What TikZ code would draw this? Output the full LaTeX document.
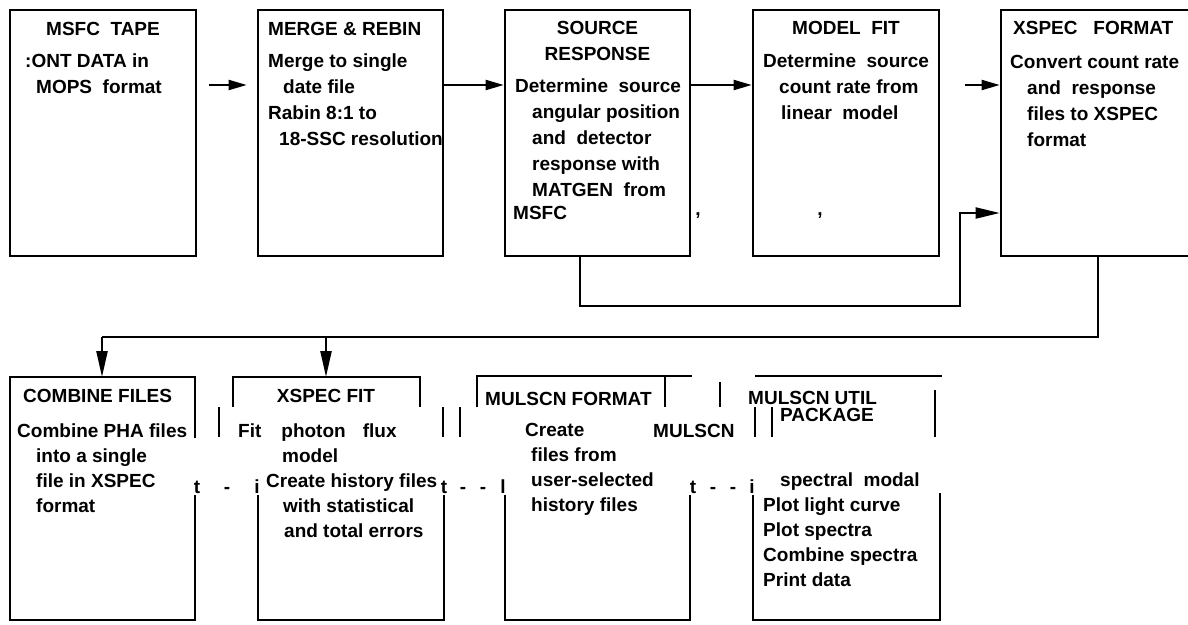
\documentclass[tikz,border=0pt]{standalone}
\usepackage{fontspec}
\setmainfont{Liberation Sans}
\usetikzlibrary{arrows.meta}

\tikzset{
  topbox/.style={draw, line width=2.6pt, minimum height=246pt, inner sep=0pt},
  frame/.style={line width=1.8pt},
  bar/.style={line width=2.4pt},
  link/.style={line width=2.4pt},
  flow/.style={line width=2pt, -{Triangle[length=18pt,width=10pt]}},
  drop/.style={line width=2.4pt, -{Triangle[length=26pt,width=11pt]}},
  title/.style={anchor=base, inner sep=0pt, font=\bfseries\fontsize{19}{25}\selectfont},
  txt/.style={anchor=north west, inner sep=0pt, align=left,
    font=\bfseries\fontsize{19}{26}\selectfont,
    execute at begin node=\rule{0pt}{14pt}},
  txtlow/.style={txt, font=\bfseries\fontsize{19}{25}\selectfont}
}

\begin{document}
\begin{tikzpicture}[x=1pt, y=-1pt]
  \useasboundingbox (0,0) rectangle (1188,624);

  % upper row
  \node[topbox, minimum width=186pt] (tape)     at (103,133)  {};
  \node[topbox, minimum width=185pt] (merge)    at (350.5,133) {};
  \node[topbox, minimum width=185pt] (source)   at (597.5,133) {};
  \node[topbox, minimum width=186pt] (model)    at (846,133)  {};
  \node[topbox, minimum width=194pt] (xspecfmt) at (1098,133) {};

  \node[title] (tapeT) at (103,35) {MSFC\ \ TAPE};
  \node[txt] (tapeB) at (25,54) {:ONT DATA in\\\hspace*{11pt}MOPS\ \ format};

  \node[title, anchor=base west] (mergeT) at (268,35) {MERGE \& REBIN};
  \node[txt] (mergeB) at (268,54) {Merge to single\\\hspace*{15pt}date file\\Rabin 8:1 to\\\hspace*{11pt}18-SSC resolution};

  \node[txt, align=center, anchor=north] (sourceT) at (597.5,21) {SOURCE\\RESPONSE};
  \node[txt] (sourceB) at (515,79) {Determine\ \ source\\\hspace*{17pt}angular position\\\hspace*{17pt}and\ \ detector\\\hspace*{17pt}response with\\\hspace*{17pt}MATGEN\ \ from\\[-3pt]\hspace*{-2pt}MSFC};
  \node[title] (commaA) at (698,215) {,};

  \node[title] (modelT) at (846,34) {MODEL\ \ FIT};
  \node[txt] (modelB) at (763,54) {Determine\ \ source\\\hspace*{16pt}count rate from\\\hspace*{18pt}linear\ \ model};
  \node[title] (commaB) at (820,215) {,};

  \node[title, anchor=base west] (xspecT) at (1013,34) {XSPEC\ \ \ FORMAT};
  \node[txt] (xspecB) at (1010,55) {Convert count rate\\\hspace*{17pt}and\ \ response\\\hspace*{17pt}files to XSPEC\\\hspace*{17pt}format};

  \coordinate (row) at (0,85);
  \draw[flow, shorten <=12pt, shorten >=10pt] (tape.east |- row) -- (merge.west |- row);
  \draw[flow] (merge.east |- row) -- (source.west |- row);
  \draw[flow] (source.east |- row) -- (model.west |- row);
  \draw[flow, shorten <=25pt] (model.east |- row) -- (xspecfmt.west |- row);

  % return path into XSPEC FORMAT
  \coordinate (loopL) at (580,306);
  \coordinate (inlet) at (960,213);
  \draw[line width=2pt, -{Triangle[length=24pt,width=11pt]}]
    (source.south -| loopL) -- (loopL) -| (inlet) -- (xspecfmt.west |- inlet);

  % lower row outlines
  \draw[frame] (195,438) -- (195,377) -- (10,377) -- (10,620) -- (195,620) -- (195,495);

  \draw[frame] (233,407) -- (233,377) -- (420,377) -- (420,407);
  \draw[bar] (219,407) -- (219,437);
  \draw[bar] (443,407) -- (443,437);
  \draw[frame] (258,495) -- (258,620) -- (444,620) -- (444,495);

  \draw[frame] (477,407) -- (477,376) -- (692,376);
  \draw[frame] (665,376) -- (665,407);
  \draw[bar] (460,407) -- (460,437);
  \draw[bar] (720,382) -- (720,407);
  \draw[frame] (505,495) -- (505,620) -- (690,620) -- (690,495);

  \draw[link] (755,376) -- (942,376);
  \draw[bar] (755,407) -- (755,437);
  \draw[bar] (772,407) -- (772,437);
  \draw[bar] (935,390) -- (935,437);
  \draw[frame] (753,495) -- (753,620) -- (940,620) -- (940,493);

  \node[title, anchor=base west] (combineT) at (23,402) {COMBINE FILES};
  \node[txtlow] (combineB) at (17,424) {Combine PHA files\\\hspace*{19pt}into a single\\\hspace*{19pt}file in XSPEC\\\hspace*{19pt}format};

  \node[title] (fitT) at (326,402) {XSPEC FIT};
  \node[txtlow] (fitB) at (238,424) {Fit\hspace{20pt}photon\hspace{17pt}flux\\\hspace*{44pt}model\\\hspace*{28pt}Create history files\\\hspace*{45pt}with statistical\\\hspace*{46pt}and total errors};

  \node[title, anchor=base west] (mulfmtT) at (485,405) {MULSCN FORMAT};
  \node[txtlow] (mulfmtB) at (525,423) {Create\\\hspace*{6pt}files from\\\hspace*{6pt}user-selected\\\hspace*{6pt}history files};
  \node[title, anchor=base west] (mulfmtX) at (653,437) {MULSCN};

  \node[txt, font=\bfseries\fontsize{19}{17}\selectfont] (mulutilT) at (748,391) {MULSCN UTIL\\\hspace*{32pt}PACKAGE};
  \node[txtlow] (mulutilB) at (763,473) {\hspace*{17pt}spectral\ \ modal\\Plot light curve\\Plot spectra\\Combine spectra\\Print data};

  % broken marks between lower boxes
  \node[title] (gapA1) at (197,493) {t};
  \node[title] (gapA2) at (227,493) {-};
  \node[title] (gapA3) at (257,493) {i};
  \node[title] (gapB1) at (444,493) {t};
  \node[title] (gapB2) at (463,493) {-};
  \node[title] (gapB3) at (483,493) {-};
  \node[title] (gapB4) at (503,493) {l};
  \node[title] (gapC1) at (693,493) {t};
  \node[title] (gapC2) at (713,493) {-};
  \node[title] (gapC3) at (733,493) {-};
  \node[title] (gapC4) at (752,493) {i};

  % split from XSPEC FORMAT to the lower row
  \coordinate (split) at (102,337);
  \coordinate (combinetop) at (102,377);
  \coordinate (fittop) at (326,377);
  \draw[link] (xspecfmt.south) |- (split);
  \draw[drop] (split) -- (combinetop);
  \draw[drop] (fittop |- split) -- (fittop);
\end{tikzpicture}
\end{document}
